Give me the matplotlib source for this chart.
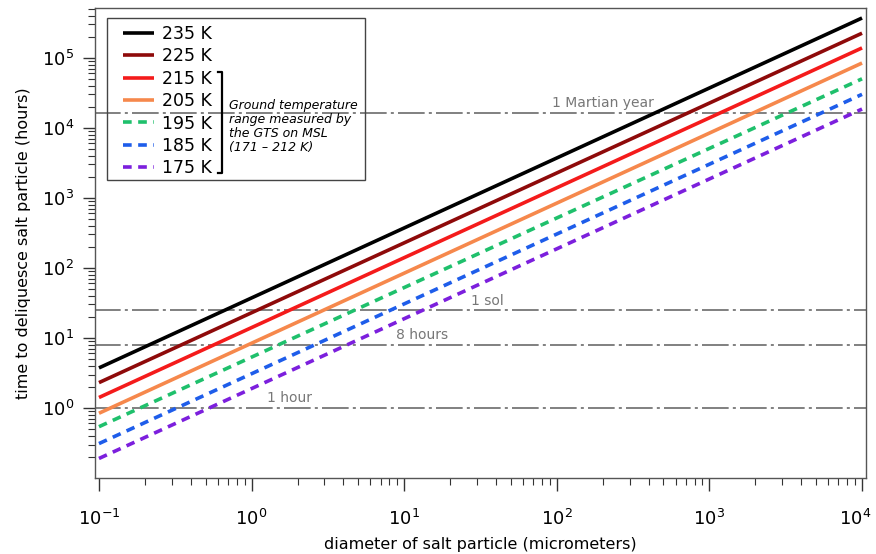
import matplotlib
matplotlib.use("Agg")
import matplotlib.pyplot as plt
from matplotlib.patches import Rectangle
from matplotlib.ticker import LogLocator, NullFormatter, FixedLocator
import matplotlib.transforms as mtransforms
import numpy as np

# ---- data ----
temps = ["235 K", "225 K", "215 K", "205 K", "195 K", "185 K", "175 K"]
diam_ends = [0.1, 1e4]                       # micrometers
time_start = [3.73, 2.30, 1.41, 0.84, 0.54, 0.31, 0.19]      # hours at 0.1 um
time_end = [3.69e5, 2.24e5, 1.38e5, 8.4e4, 5.0e4, 3.0e4, 1.85e4]  # hours at 1e4 um
colors = ["#000000", "#8E0A0A", "#F41B1B", "#F6884C", "#1FC06C", "#1E5DEA", "#7C1FDD"]
dashed = [False, False, False, False, True, True, True]

ref_labels = ["1 Martian year", "1 sol", "8 hours", "1 hour"]
ref_values = [16488.0, 24.66, 8.0, 1.0]
ref_label_x = [200.0, 35.0, 13.0, 1.78]

# ---- figure ----
fig = plt.figure(figsize=(8.76, 5.54), dpi=100)
ax = fig.add_axes([95/876, 1-478/554, 771/876, 470/554])
ax.set_xscale("log")
ax.set_yscale("log")

gray = "#6b6b6b"
for lab, val, lx in zip(ref_labels, ref_values, ref_label_x):
    ax.plot([0.1 * 10**-0.03, 1e4 * 10**0.03], [val, val], color=gray, lw=1.2,
            dashes=(16, 2.5, 1.8, 2.5), zorder=1)
    ax.text(lx, val * 1.1, lab, color="#777777", fontsize=10, ha="center", va="bottom")

for t, y0, y1, c, d in zip(temps, time_start, time_end, colors, dashed):
    kw = dict(color=c, lw=2.6, label=t, zorder=3, solid_capstyle="butt")
    if d:
        kw["dashes"] = (2.4, 1.8)
        kw["dash_capstyle"] = "butt"
    ax.plot(diam_ends, [y0, y1], **kw)

ax.set_xlim(0.1 * 10**-0.026, 1e4 * 10**0.026)
ax.set_ylim(0.1, 10**5.71)

ax.yaxis.set_major_locator(FixedLocator([1, 10, 100, 1e3, 1e4, 1e5]))
ax.yaxis.set_minor_locator(LogLocator(base=10, subs=np.arange(2, 10), numticks=20))
ax.xaxis.set_major_locator(FixedLocator([0.1, 1, 10, 100, 1e3, 1e4]))
ax.xaxis.set_minor_locator(LogLocator(base=10, subs=np.arange(2, 10), numticks=20))
ax.xaxis.set_minor_formatter(NullFormatter())
ax.yaxis.set_minor_formatter(NullFormatter())

ax.tick_params(which="major", direction="out", length=9, width=1, colors="#333333",
               labelsize=13, labelcolor="black")
ax.tick_params(which="minor", direction="out", length=5, width=0.8, colors="#333333")
ax.tick_params(axis="x", which="major", pad=13)
ax.tick_params(axis="y", which="major", pad=6)
for s in ax.spines.values():
    s.set_color("#555555")
    s.set_linewidth(1.0)

# nudge last x tick label so it stays inside the canvas
last = ax.xaxis.get_major_ticks()[-1]
last.label1.set_transform(last.label1.get_transform() +
                          mtransforms.ScaledTranslation(-5/72, 0, fig.dpi_scale_trans))

ax.set_xlabel("diameter of salt particle (micrometers)", fontsize=11.5, labelpad=6)
ax.set_ylabel("time to deliquesce salt particle (hours)", fontsize=11.5, labelpad=8)

# legend
leg = ax.legend(loc="upper left", bbox_to_anchor=(0.0363, 0.9635), frameon=False,
                borderpad=0, borderaxespad=0, handlelength=1.8, handletextpad=0.45,
                labelspacing=0.25, fontsize=12.5)
ax.add_patch(Rectangle((0.0156, 0.634), 0.3344, 0.345, transform=ax.transAxes,
                       fill=False, edgecolor="#444444", lw=1.0, zorder=5))
# bracket
bx, bx0, by0, by1 = 0.1647, 0.1595, 0.649, 0.864
ax.plot([bx0, bx, bx, bx0], [by1, by1, by0, by0], transform=ax.transAxes,
        color="black", lw=1.6, zorder=6, clip_on=False)
ax.text(0.1738, 0.806, "Ground temperature\nrange measured by\nthe GTS on MSL\n(171 \u2013 212 K)",
        transform=ax.transAxes, fontsize=9, style="italic", ha="left", va="top",
        linespacing=1.1, zorder=6)

fig.savefig("out.png", dpi=100)
